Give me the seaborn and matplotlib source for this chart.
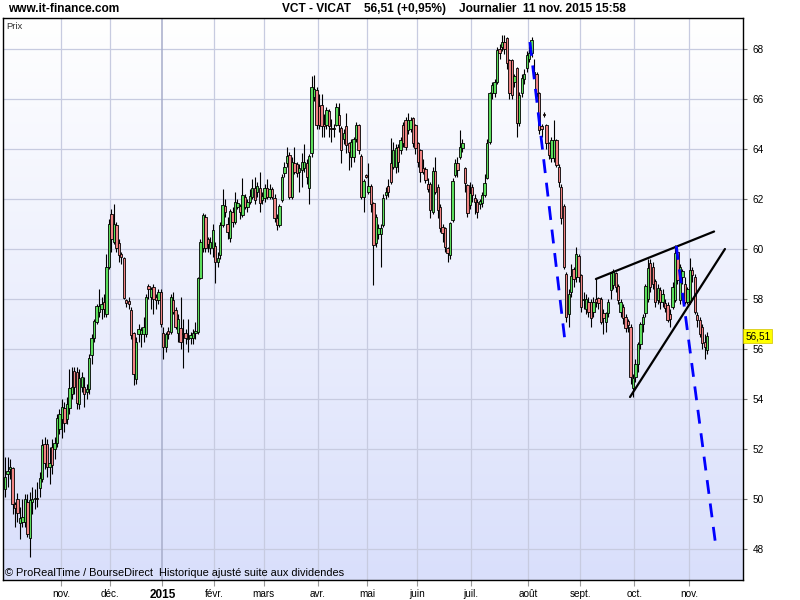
import numpy as np
import pandas as pd
import matplotlib
matplotlib.use("Agg")
import matplotlib.pyplot as plt
from matplotlib.colors import LinearSegmentedColormap
from matplotlib import font_manager
import seaborn as sns

# ---------------- data (daily OHLC, VICAT, Oct 2014 - 11 Nov 2015) ----------------
OPEN = [50.4, 51.0, 51.2, 51.25, 49.8, 50.0, 49.05, 49.1, 49.1, 49.9, 48.45, 49.9, 50.0, 50.05, 50.45, 50.8, 52.2, 52.2, 51.3, 52.1,
        52.0, 52.25, 52.8, 53.2, 53.65, 53.2, 53.65, 54.2, 55.1, 55.1, 53.8, 54.5, 54.5, 54.3, 54.4, 55.77, 56.44, 57.1, 57.5, 57.6,
        57.9, 57.4, 59.3, 61.4, 60.3, 60.97, 60.24, 59.8, 59.64, 57.95, 57.9, 57.57, 56.64, 54.8, 56.6, 56.6, 56.6, 56.6, 58.5, 58.1,
        58.5, 58.1, 57.95, 58.3, 56.64, 56.1, 56.7, 56.7, 57.97, 57.57, 56.64, 56.84, 56.6, 56.64, 56.4, 56.45, 56.45, 56.64, 56.7, 58.84,
        60.04, 61.3, 60.4, 60.04, 60.04, 60.1, 59.5, 59.77, 60.97, 61.7, 61.0, 60.44, 61.5, 61.1, 61.7, 61.7, 61.37, 62.1, 61.7, 61.9,
        62.1, 62.44, 62.3, 62.44, 61.97, 62.04, 62.44, 62.1, 62.4, 62.04, 61.24, 60.97, 61.97, 63.04, 63.44, 63.77, 62.1, 63.44, 63.4, 63.1,
        63.17, 63.24, 63.44, 62.44, 63.84, 66.1, 66.37, 65.7, 65.77, 65.0, 64.97, 65.5, 64.84, 64.8, 64.97, 65.37, 64.84, 64.4, 64.9, 64.24,
        63.7, 63.7, 64.4, 64.97, 63.7, 62.1, 62.95, 62.3, 62.5, 61.84, 60.24, 60.6, 60.6, 60.97, 62.17, 62.5, 63.44, 63.3, 63.3, 64.1,
        63.97, 64.97, 65.17, 64.77, 64.8, 65.24, 64.97, 64.24, 63.97, 63.24, 63.2, 62.6, 62.6, 61.5, 63.1, 62.48, 61.7, 60.9, 60.84, 60.04,
        59.77, 61.17, 62.97, 63.44, 63.7, 64.04, 63.24, 62.57, 61.77, 62.48, 62.04, 61.9, 61.8, 61.84, 62.17, 62.84, 64.3, 66.24, 66.24, 66.7,
        68.0, 68.1, 68.3, 68.44, 67.57, 67.57, 66.7, 67.24, 65.04, 66.24, 66.8, 67.24, 67.6, 67.84, 67.0, 67.0, 66.24, 64.9, 65.4, 64.97,
        64.24, 63.64, 63.64, 64.37, 63.3, 62.5, 61.7, 59.0, 57.4, 58.3, 59.2, 58.9, 59.7, 58.97, 57.95, 57.6, 57.9, 57.9, 57.5, 58.0,
        58.04, 58.0, 57.44, 57.1, 57.44, 58.37, 58.57, 59.04, 58.5, 57.5, 57.7, 57.3, 57.1, 56.9, 54.44, 54.9, 55.4, 56.2, 57.0, 57.44,
        58.0, 59.44, 59.3, 58.7, 57.97, 58.37, 57.9, 57.84, 57.77, 57.4, 57.7, 57.97, 59.9, 57.97, 58.9, 58.6, 57.9, 57.9, 59.17, 58.9,
        57.37, 57.17, 56.9, 56.3, 55.97]
HIGH = [51.7, 51.7, 51.6, 51.3, 49.9, 50.25, 49.7, 50.0, 50.2, 50.2, 50.3, 50.5, 50.4, 50.7, 51.1, 52.4, 52.5, 52.4, 52.1, 52.4,
        52.5, 53.4, 53.6, 54.0, 53.9, 54.1, 55.2, 55.3, 55.3, 55.3, 55.2, 55.1, 54.9, 54.6, 55.8, 56.6, 57.2, 57.8, 58.4, 58.1,
        58.2, 59.8, 61.2, 61.6, 61.8, 61.1, 60.4, 59.9, 59.7, 58.0, 58.1, 57.7, 56.7, 56.5, 57.0, 56.9, 57.3, 58.2, 58.6, 58.5,
        58.6, 58.2, 58.4, 58.4, 56.9, 56.7, 56.9, 58.2, 58.3, 57.7, 57.4, 58.1, 57.2, 56.8, 57.2, 56.7, 56.8, 57.1, 58.9, 60.4,
        61.45, 61.4, 60.5, 60.5, 61.0, 60.3, 59.9, 61.1, 62.4, 62.0, 61.3, 61.6, 61.7, 62.3, 62.0, 61.8, 62.84, 62.2, 62.0, 62.4,
        62.8, 62.9, 62.7, 63.1, 62.3, 62.6, 62.8, 62.6, 62.5, 62.2, 61.4, 61.8, 63.0, 63.5, 64.1, 63.9, 63.7, 64.1, 63.5, 63.4,
        63.84, 64.2, 63.6, 63.8, 66.9, 66.96, 66.5, 66.2, 66.2, 65.4, 65.7, 65.6, 65.2, 65.0, 65.84, 65.84, 64.9, 64.8, 65.44, 64.3,
        64.4, 64.5, 65.1, 65.0, 63.8, 62.8, 63.0, 63.44, 62.6, 61.9, 61.4, 61.0, 61.0, 62.2, 62.5, 62.8, 64.44, 64.3, 64.2, 64.2,
        64.5, 65.1, 65.3, 65.44, 65.3, 65.3, 65.0, 64.3, 64.0, 63.6, 63.3, 62.84, 62.7, 63.3, 63.67, 62.6, 61.8, 61.0, 60.9, 60.1,
        61.1, 62.84, 63.6, 63.7, 64.77, 64.4, 63.3, 62.6, 62.7, 62.6, 62.2, 62.0, 62.0, 62.3, 63.0, 64.4, 66.3, 66.7, 66.8, 68.1,
        68.2, 68.57, 68.57, 68.5, 67.6, 67.6, 67.0, 67.3, 66.3, 67.0, 67.2, 67.9, 68.2, 68.5, 67.6, 67.1, 66.3, 65.0, 65.5, 65.0,
        64.3, 64.5, 65.17, 64.4, 63.4, 62.6, 61.8, 59.1, 58.4, 59.4, 59.3, 60.1, 59.8, 59.0, 58.3, 58.2, 58.1, 58.0, 58.1, 58.85,
        58.1, 58.1, 57.6, 57.5, 58.0, 59.1, 59.2, 59.1, 58.6, 58.0, 57.8, 57.4, 57.2, 57.0, 55.0, 55.6, 56.3, 57.1, 57.4, 58.6,
        59.6, 59.6, 59.5, 58.8, 58.6, 58.5, 58.4, 58.0, 57.9, 57.6, 58.7, 60.17, 60.1, 59.4, 59.2, 58.9, 58.5, 59.64, 59.3, 59.0,
        57.5, 57.3, 57.0, 56.6, 56.7]
LOW = [50.1, 50.5, 50.8, 49.4, 48.9, 49.1, 48.4, 48.9, 48.9, 48.5, 47.7, 49.4, 49.6, 49.7, 50.1, 50.7, 51.2, 50.9, 50.6, 51.0,
       51.6, 52.1, 52.6, 52.45, 52.7, 53.0, 53.4, 54.0, 54.2, 53.6, 53.6, 54.3, 53.7, 54.0, 54.2, 55.4, 56.3, 57.0, 57.3, 57.2,
       57.3, 57.3, 59.2, 59.9, 60.2, 59.9, 59.5, 59.4, 58.0, 57.7, 57.6, 56.4, 54.57, 54.6, 56.3, 56.1, 56.3, 56.5, 58.0, 57.6,
       57.4, 57.6, 57.8, 56.9, 55.6, 55.9, 56.4, 56.6, 57.4, 56.8, 56.3, 56.0, 55.24, 56.2, 55.9, 56.2, 56.2, 56.4, 56.6, 58.8,
       59.9, 59.9, 59.9, 59.8, 59.7, 58.64, 59.3, 59.6, 60.9, 61.3, 60.4, 60.3, 60.9, 61.0, 61.6, 61.2, 61.3, 61.6, 61.5, 61.8,
       62.0, 61.8, 62.1, 61.5, 61.8, 61.9, 62.0, 62.0, 62.0, 61.1, 60.77, 60.9, 61.9, 62.9, 63.3, 62.0, 62.0, 63.0, 62.9, 62.3,
       62.5, 63.1, 62.6, 61.8, 63.7, 65.9, 64.8, 64.8, 64.5, 64.5, 64.8, 64.5, 64.3, 64.5, 64.9, 64.7, 63.44, 64.2, 63.84, 63.17,
       63.3, 63.5, 64.3, 63.8, 62.0, 61.5, 62.85, 62.2, 61.5, 58.57, 60.1, 60.4, 59.3, 60.9, 62.0, 62.1, 62.6, 63.2, 63.04, 63.1,
       63.8, 64.1, 63.97, 64.6, 64.7, 64.1, 63.8, 63.3, 62.7, 63.0, 62.64, 62.3, 61.24, 61.4, 62.2, 61.24, 60.7, 60.3, 59.9, 59.5,
       59.6, 61.1, 62.9, 62.9, 63.6, 63.9, 62.3, 61.3, 61.6, 61.9, 61.4, 61.24, 61.6, 61.7, 62.1, 62.8, 64.2, 66.0, 66.1, 66.6,
       67.6, 67.9, 67.8, 67.2, 66.0, 66.0, 66.5, 64.5, 64.9, 66.1, 66.6, 67.1, 67.5, 67.7, 66.9, 66.1, 64.6, 64.5, 65.3, 64.0,
       63.6, 63.5, 63.5, 63.3, 62.5, 61.0, 59.2, 57.1, 56.9, 58.1, 58.5, 58.7, 58.7, 57.5, 57.6, 57.4, 57.3, 56.9, 57.3, 57.7,
       57.6, 57.0, 56.6, 56.7, 57.3, 58.0, 58.4, 58.3, 57.8, 57.3, 57.0, 56.7, 56.7, 54.6, 54.1, 54.7, 55.1, 56.0, 56.7, 57.3,
       57.9, 58.3, 58.4, 57.7, 57.8, 57.6, 57.7, 57.5, 57.1, 56.9, 57.6, 57.9, 58.6, 57.8, 58.6, 57.8, 57.8, 57.8, 58.7, 57.4,
       56.9, 56.5, 56.0, 55.6, 55.8]
CLOSE = [50.9, 51.1, 51.3, 49.8, 49.65, 49.45, 49.25, 49.3, 50.0, 48.6, 49.95, 50.0, 50.05, 50.0, 50.85, 52.15, 51.45, 51.3, 51.45, 51.35,
         52.25, 53.25, 53.4, 53.7, 53.05, 53.8, 54.45, 54.5, 54.5, 53.85, 54.85, 54.9, 54.2, 54.4, 55.64, 56.44, 57.1, 57.7, 57.7, 57.8,
         57.6, 59.3, 61.0, 60.4, 61.0, 60.04, 59.77, 59.7, 58.04, 57.85, 57.8, 56.57, 55.0, 56.3, 56.8, 56.75, 56.9, 58.1, 58.4, 58.4,
         58.0, 57.95, 58.3, 57.0, 56.1, 56.6, 56.6, 58.1, 57.5, 56.9, 57.2, 56.3, 56.65, 56.45, 56.45, 56.55, 56.64, 56.7, 58.84, 60.3,
         61.37, 60.04, 60.2, 60.3, 60.77, 59.5, 59.65, 60.97, 61.77, 61.5, 60.7, 61.5, 61.1, 61.87, 61.84, 61.5, 62.17, 61.7, 61.9, 62.1,
         62.44, 61.97, 62.5, 61.84, 62.1, 62.44, 62.1, 62.4, 62.1, 61.24, 60.97, 61.7, 62.9, 63.3, 63.7, 62.1, 63.5, 63.1, 63.04, 63.24,
         63.5, 63.5, 62.9, 63.7, 66.5, 66.4, 64.97, 64.97, 64.9, 64.9, 65.57, 64.9, 64.8, 64.84, 65.68, 64.97, 63.97, 64.64, 64.17, 63.9,
         64.3, 64.4, 64.97, 63.97, 62.1, 62.7, 62.9, 62.5, 61.8, 60.17, 61.3, 60.84, 60.84, 62.04, 62.3, 62.3, 62.7, 63.97, 64.04, 63.5,
         64.37, 64.24, 64.1, 65.17, 65.17, 64.24, 64.04, 63.5, 63.1, 63.1, 62.77, 62.4, 61.57, 63.1, 62.3, 61.57, 60.84, 60.64, 60.1, 59.84,
         61.04, 62.7, 63.44, 63.17, 64.1, 64.24, 62.64, 61.44, 62.24, 62.17, 61.9, 61.5, 61.9, 62.15, 62.64, 64.24, 66.24, 66.57, 66.7, 67.97,
         67.84, 68.3, 68.0, 67.44, 66.24, 66.17, 66.9, 65.04, 66.17, 66.84, 67.0, 67.77, 67.84, 68.37, 67.1, 66.24, 64.77, 64.8, 65.37, 64.24,
         63.77, 64.37, 64.37, 63.37, 62.7, 61.24, 59.3, 57.3, 58.2, 58.9, 58.8, 59.8, 58.9, 57.7, 58.0, 58.0, 57.5, 57.24, 57.9, 57.9,
         57.84, 57.1, 57.24, 57.44, 57.9, 59.04, 59.1, 58.5, 57.97, 57.9, 57.24, 56.84, 56.97, 54.9, 54.84, 55.4, 56.2, 57.0, 57.3, 58.5,
         59.24, 58.5, 58.6, 57.9, 58.44, 57.9, 58.2, 57.64, 57.17, 57.2, 58.5, 59.84, 58.77, 59.3, 59.1, 57.9, 58.4, 59.17, 58.97, 57.5,
         57.17, 56.6, 56.24, 56.1, 56.51]

FIRST_DAY = "2014-10-01"
LAST_DAY = "2015-11-11"
HOLIDAYS = ["2014-12-25", "2014-12-26", "2015-01-01", "2015-04-03", "2015-04-06", "2015-05-01"]
MONTH_NAMES = ["janv.", "févr.", "mars", "avr.", "mai", "juin", "juil.", "août", "sept.", "oct.", "nov.", "déc."]
Y_TICKS = [48, 50, 52, 54, 56, 58, 60, 62, 64, 66, 68]
LAST_PRICE_LABEL = "56,51"

# drawn annotations (trading-day index, price)
WEDGE_UPPER_X = [239.0, 286.8]
WEDGE_UPPER_Y = [58.80, 60.70]
WEDGE_LOWER_X = [252.8, 291.2]
WEDGE_LOWER_Y = [54.08, 60.00]
PROJ1_X = [212.3, 226.5]
PROJ1_Y = [68.28, 56.30]
PROJ2_X = [271.5, 287.6]
PROJ2_Y = [60.12, 48.05]

# ---------------- build frame ----------------
days = pd.bdate_range(FIRST_DAY, LAST_DAY)
days = days[~days.isin(pd.to_datetime(HOLIDAYS))]
df = pd.DataFrame({"date": days, "open": OPEN, "high": HIGH, "low": LOW, "close": CLOSE})
df["i"] = np.arange(len(df))
df["up"] = df["close"] >= df["open"]

mstart = df.groupby([df.date.dt.year, df.date.dt.month])["i"].min().reset_index(drop=True)
month_pos = [p for p in mstart.values if p > 0]
month_lab = []
for p in month_pos:
    d = df.loc[p, "date"]
    month_lab.append(str(d.year) if d.month == 1 else MONTH_NAMES[d.month - 1])

# ---------------- style ----------------
sns.set_theme(style="white")
avail = {f.name for f in font_manager.fontManager.ttflist}
if "Liberation Sans Narrow" in avail:
    FAM = ["Liberation Sans Narrow", "DejaVu Sans"]
    FS = 1.0
else:
    FAM = ["Liberation Sans", "DejaVu Sans"]
    FS = 0.85
plt.rcParams["font.family"] = FAM

fig = plt.figure(figsize=(8, 6), dpi=100, facecolor="white")
L, R, T, B = 3 / 800, 743 / 800, 18 / 600, 580 / 600
ax = fig.add_axes([L, 1 - B, R - L, B - T])

XMIN, XMAX = -0.85, 298.5
YMIN, YMAX = 46.76, 69.24

# gradient background
cmap = LinearSegmentedColormap.from_list("bg", ["#d9dffb", "#ffffff"])
grad = np.linspace(0, 1, 256).reshape(-1, 1)
ax.imshow(grad, extent=(XMIN, XMAX, YMIN, YMAX), origin="lower", aspect="auto",
          cmap=cmap, zorder=0, interpolation="bicubic")

# grid
for yv in Y_TICKS:
    ax.axhline(yv, color="#c7cbe0", lw=0.9, zorder=1)
for p, lab in zip(month_pos, month_lab):
    ax.axvline(p - 0.4, color="#a7adca" if lab.isdigit() else "#c7cbe0",
               lw=1.1 if lab.isdigit() else 0.9, zorder=1)

# candles: wicks then bodies
ax.vlines(df["i"], df["low"], df["high"], color="black", lw=0.8, zorder=2)
body_lo = np.minimum(df["open"], df["close"])
body_h = np.maximum(np.abs(df["close"] - df["open"]), 0.02)
cols = np.where(df["up"], "#5cde5c", "#f08484")
ax.bar(df["i"], body_h, bottom=body_lo, width=0.95, color=cols,
       edgecolor="black", linewidth=0.6, zorder=3)

# drawn annotations
sns.lineplot(x=WEDGE_UPPER_X, y=WEDGE_UPPER_Y, ax=ax, color="black", lw=1.6, zorder=4)
sns.lineplot(x=WEDGE_LOWER_X, y=WEDGE_LOWER_Y, ax=ax, color="black", lw=1.6, zorder=4)
for px, py in ((PROJ1_X, PROJ1_Y), (PROJ2_X, PROJ2_Y)):
    ax.plot(px, py, color="#0000ff", lw=2.0, dashes=(5, 3.5), zorder=4)

ax.set_xlim(XMIN, XMAX)
ax.set_ylim(YMIN, YMAX)

# axes styling
for s in ax.spines.values():
    s.set_visible(True)
    s.set_color("black")
    s.set_linewidth(1.0)
ax.yaxis.tick_right()
ax.set_yticks(Y_TICKS)
ax.set_yticklabels([str(v) for v in Y_TICKS])
ax.tick_params(axis="y", which="both", right=True, left=False, length=3, width=0.8,
               color="#777777", labelsize=8.5 * FS, pad=4, labelcolor="black")
ax.set_xticks([p - 0.4 for p in month_pos])
ax.set_xticklabels(month_lab)
ax.tick_params(axis="x", bottom=True, length=4, width=0.8, color="#999999",
               labelsize=8.5 * FS, pad=2.5, labelcolor="black")
for t in ax.get_xticklabels():
    if t.get_text().isdigit():
        t.set_fontweight("bold")
        t.set_fontsize(10 * FS)
ax.set_xlabel("")
ax.set_ylabel("")

# price tag
ax.text(1.003, CLOSE[-1], LAST_PRICE_LABEL, transform=ax.get_yaxis_transform(),
        ha="left", va="center", fontsize=8.5 * FS, color="black",
        bbox=dict(boxstyle="square,pad=0.18", fc="#ffff00", ec="#d0c000", lw=0.5), zorder=6, clip_on=False)

# texts
ax.text(0.004, 0.992, "Prix", transform=ax.transAxes, ha="left", va="top",
        fontsize=8 * FS, color="#333333")
ax.text(0.003, 0.004, "© ProRealTime / BourseDirect  Historique ajusté suite aux dividendes",
        transform=ax.transAxes, ha="left", va="bottom", fontsize=9.3 * FS, color="black")
fig.text(8 / 800, 1 - 9 / 600, "www.it-finance.com", ha="left", va="center",
         fontsize=10.1 * FS, fontweight="bold", color="black")
fig.text(282 / 800, 1 - 9 / 600,
         "VCT - VICAT    56,51 (+0,95%)    Journalier  11 nov. 2015 15:58",
         ha="left", va="center", fontsize=10.1 * FS, fontweight="bold", color="black")

fig.savefig("out.png", dpi=100, facecolor="white")
